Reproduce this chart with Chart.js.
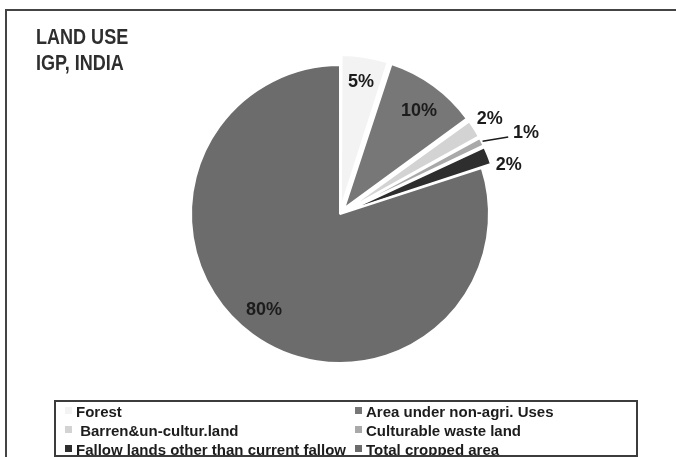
<!DOCTYPE html>
<html>
<head>
<meta charset="utf-8">
<script src="https://cdn.jsdelivr.net/npm/chart.js@4.4.1/dist/chart.umd.min.js"></script>
<style>
  html, body { margin: 0; padding: 0; background: #ffffff; }
  #wrap { width: 676px; height: 457px; position: relative; }
</style>
</head>
<body>
<div id="wrap"><canvas id="chart" width="676" height="457"></canvas></div>
<script>
// Land use shares, Indo-Gangetic Plain (IGP), India
const categories = [
  'Forest',
  'Area under non-agri. Uses',
  ' Barren&un-cultur.land',
  'Culturable waste land',
  'Fallow lands other than current fallow',
  'Total cropped area'
];
const shares = [5, 10, 2, 1, 2, 80];
const titleLines = ['LAND USE', 'IGP, INDIA'];

// Styling
const sliceColors = ['#f3f3f3', '#777777', '#d3d3d3', '#a9a9a9', '#2e2e2e', '#6c6c6c'];
// outward shift of each slice, in pixels
const sliceShift = [10, 10, 10, 10, 10, 0];
// label placement around the pie centre: radius factor and angular nudge (degrees)
const labelPlacement = [
  { r: 0.90, da: 0 },
  { r: 0.87, da: 1.5 },
  { r: 1.19, da: 0 },
  { r: 1.36, da: 3.6 },
  { r: 1.18, da: 5.4 },
  { r: 0.82, da: 2.4 }
];
const leaderIndex = 3;

const FONT = "'Liberation Sans', Arial, sans-serif";
const TEXT = '#1c1c1c';

// Chart.js translates an arc by offset/4 * (2 - sin(circumference));
// invert that so each slice moves by the requested number of pixels.
function arcOffset(ctx) {
  const data = ctx.dataset.data;
  const total = data.reduce((s, v) => s + v, 0);
  const circ = (data[ctx.dataIndex] / total) * Math.PI * 2;
  const k = 2 - Math.sin(Math.min(Math.PI, circ));
  return (4 * sliceShift[ctx.dataIndex]) / k;
}

function condensedText(ctx, text, x, y, scaleX) {
  ctx.save();
  ctx.translate(x, y);
  ctx.scale(scaleX, 1);
  ctx.fillText(text, 0, 0);
  ctx.restore();
}

const decorPlugin = {
  id: 'decor',
  beforeDraw(chart) {
    const ctx = chart.ctx;
    ctx.save();
    ctx.fillStyle = '#ffffff';
    ctx.fillRect(0, 0, chart.width, chart.height);
    ctx.strokeStyle = '#444444';
    ctx.lineWidth = 2;
    ctx.strokeRect(6, 10, 700, 480);
    ctx.restore();
  },
  afterDraw(chart) {
    const ctx = chart.ctx;
    const meta = chart.getDatasetMeta(0);
    const values = chart.data.datasets[0].data;
    ctx.save();

    // title
    ctx.fillStyle = '#2e2e2e';
    ctx.font = 'bold 22px ' + FONT;
    ctx.textAlign = 'left';
    ctx.textBaseline = 'alphabetic';
    condensedText(ctx, titleLines[0], 36, 44, 0.82);
    condensedText(ctx, titleLines[1], 36, 70, 0.82);

    // value labels
    ctx.fillStyle = TEXT;
    ctx.font = 'bold 18px ' + FONT;
    ctx.textAlign = 'center';
    ctx.textBaseline = 'middle';
    meta.data.forEach((arc, i) => {
      const p = arc.getProps(['x', 'y', 'startAngle', 'endAngle', 'outerRadius']);
      const mid = (p.startAngle + p.endAngle) / 2;
      const lp = labelPlacement[i];
      const a = mid + lp.da * Math.PI / 180;
      const lx = p.x + Math.cos(a) * p.outerRadius * lp.r;
      const ly = p.y + Math.sin(a) * p.outerRadius * lp.r;
      ctx.fillText(values[i] + '%', lx, ly);
      if (i === leaderIndex) {
        const r0 = p.outerRadius + sliceShift[i] + 1;
        const a2 = mid + 2.4 * Math.PI / 180;
        const r1 = p.outerRadius + 36;
        ctx.save();
        ctx.strokeStyle = '#1c1c1c';
        ctx.lineWidth = 1.5;
        ctx.beginPath();
        ctx.moveTo(p.x + Math.cos(mid) * r0, p.y + Math.sin(mid) * r0);
        ctx.lineTo(p.x + Math.cos(a2) * r1, p.y + Math.sin(a2) * r1);
        ctx.stroke();
        ctx.restore();
      }
    });

    // legend box
    const box = { x: 55, y: 401, w: 582, h: 55 };
    ctx.font = 'bold 15px ' + FONT;
    ctx.textAlign = 'left';
    ctx.textBaseline = 'alphabetic';
    const colX = [65, 355];
    const rowBase = [417, 436, 455];
    categories.forEach((name, i) => {
      const col = i % 2, row = Math.floor(i / 2);
      const bx = colX[col], by = rowBase[row];
      ctx.fillStyle = sliceColors[i];
      ctx.fillRect(bx, by - 10, 7, 7);
      ctx.fillStyle = TEXT;
      ctx.fillText(name, bx + 11, by);
    });
    ctx.strokeStyle = '#3c3c3c';
    ctx.lineWidth = 2;
    ctx.strokeRect(box.x, box.y, box.w, box.h);
    ctx.restore();
  }
};

new Chart(document.getElementById('chart'), {
  type: 'pie',
  data: {
    labels: categories,
    datasets: [{
      data: shares,
      backgroundColor: sliceColors,
      borderColor: '#ffffff',
      borderWidth: 2,
      offset: arcOffset,
      radius: 149
    }]
  },
  options: {
    responsive: false,
    animation: false,
    layout: { padding: { left: 30, right: 26, top: 20, bottom: 49 } },
    plugins: {
      legend: { display: false },
      title: { display: false },
      tooltip: { enabled: false }
    }
  },
  plugins: [decorPlugin]
});
</script>
</body>
</html>
